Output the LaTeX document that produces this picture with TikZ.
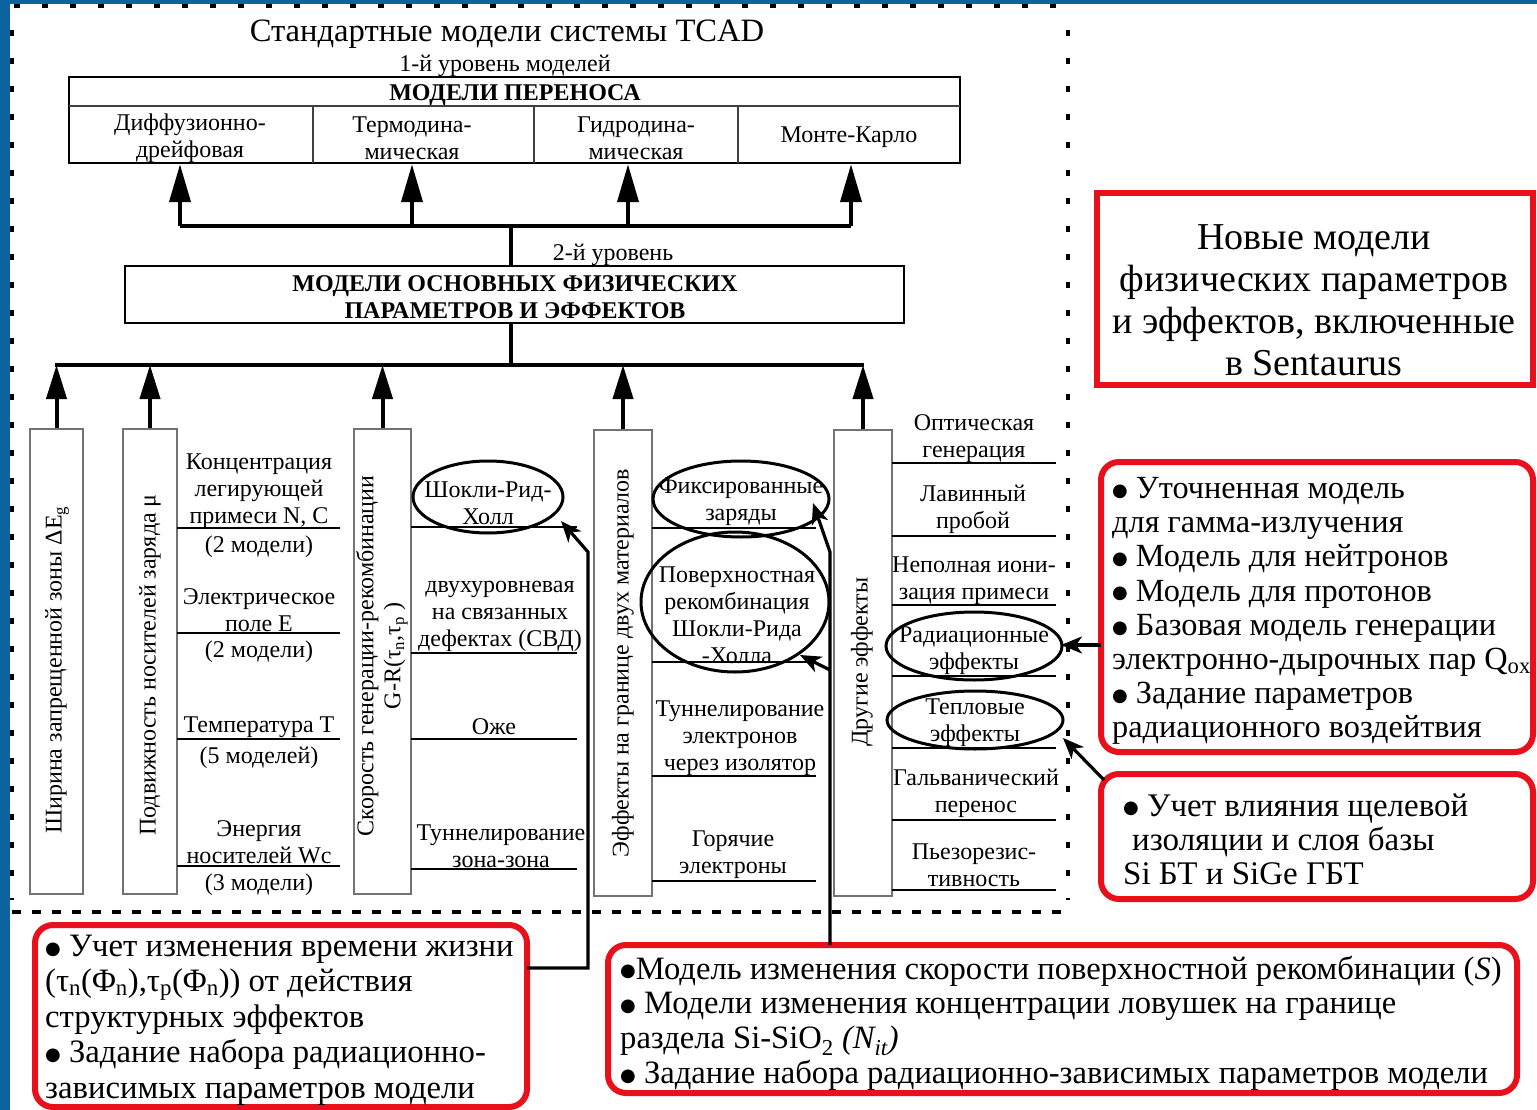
\documentclass[tikz,border=0pt]{standalone}
\usepackage{fontspec}
\setmainfont{Liberation Serif}
\newfontfamily\dejavu{DejaVu Sans}
\newcommand{\bul}{\raisebox{2.2pt}{\dejavu\fontsize{18}{18}\selectfont ●}}
\usetikzlibrary{arrows.meta,calc}
\definecolor{frameblue}{HTML}{0B64A0}
\definecolor{boxred}{HTML}{E8101A}
\begin{document}
\begin{tikzpicture}[x=1pt,y=-1pt,
  t24/.style={font=\fontsize{24}{27}\selectfont, align=center, inner sep=0pt},
  th/.style={t24, yshift=-3pt},
  b24/.style={font=\bfseries\fontsize{24}{27}\selectfont, align=center, inner sep=0pt},
  colbox/.style={draw=black!55, line width=1.2pt, inner sep=0pt},
  uline/.style={line width=1.8pt},
  ell/.style={line width=3pt},
  thk/.style={line width=4pt},
  bigarr/.style={line width=4pt, -{Triangle[length=38pt,width=21pt]}},
  midarr/.style={line width=4pt, -{Triangle[length=34pt,width=20pt]}},
  stl/.style={line width=3.2pt, -{Stealth[length=21pt,width=17pt,inset=6pt]}},
  redsq/.style={draw=boxred, line width=6pt, inner sep=0pt},
  redb/.style={draw=boxred, line width=6pt, rounded corners=18pt, inner sep=0pt},
  dashfr/.style={line width=4pt, dash pattern=on 6pt off 22pt},
]
\useasboundingbox (0,0) rectangle (1537,1110);
\fill[white] (0,0) rectangle (1537,1110);
\fill[frameblue] (0,0) rectangle (10,1110);
\fill[frameblue] (0,0) rectangle (1537,4);

% dashed frame
\draw[dashfr] (14,6) -- (1068,6);
\draw[dashfr] (12,30) -- (12,900);
\draw[dashfr] (1068,30) -- (1068,900);
\draw[line width=4pt, dash pattern=on 9pt off 11pt] (12,912) -- (1068,912);

% titles
\node (title) [font=\fontsize{32.6}{36}\selectfont, inner sep=0pt] at (507,34) {Стандартные модели системы TCAD};
\node (lvl1) [th] at (505,63) {1-й уровень моделей};

% level 1 box
\node (tm) [draw, line width=2.5pt, minimum width=891pt, minimum height=86pt, inner sep=0pt] at (514.5,120) {};
\draw[line width=1.3pt, black!75] (69,106) -- (960,106);
\draw[line width=1.3pt, black!75] (313,106) -- (313,163);
\draw[line width=1.3pt, black!75] (534,106) -- (534,163);
\draw[line width=1.3pt, black!75] (738,106) -- (738,163);
\node (tmh) [b24, yshift=-3pt] at (515,92) {МОДЕЛИ ПЕРЕНОСА};
\node (m1) [th] at (190,135) {Диффузионно-\\дрейфовая};
\node (m2) [th] at (412,135) {Термодина-\\мическая};
\node (m3) [th] at (636,135) {Гидродина-\\мическая};
\node (m4) [th] at (849,134) {Монте-Карло};

% level 2 box
\node (b2) [draw, line width=2.5pt, minimum width=779pt, minimum height=57pt, inner sep=0pt] at (514.5,294.5) {};
\node (b2t) [b24] at (515,297) {МОДЕЛИ ОСНОВНЫХ ФИЗИЧЕСКИХ\\ПАРАМЕТРОВ И ЭФФЕКТОВ};
\node (lvl2) [th] at (613,252) {2-й уровень};

% upper connectors
\coordinate (j1) at (511,226);
\coordinate (ta1) at (180,226);
\coordinate (ta2) at (412,226);
\coordinate (ta3) at (628,226);
\coordinate (ta4) at (851,226);
\draw[thk] (ta1) -- (ta4);
\draw[thk] (j1) -- (j1 |- b2.north);
\draw[bigarr] (ta1) -- (ta1 |- tm.south);
\draw[bigarr] (ta2) -- (ta2 |- tm.south);
\draw[bigarr] (ta3) -- (ta3 |- tm.south);
\draw[bigarr] (ta4) -- (ta4 |- tm.south);

% columns
\node (c1) [colbox, minimum width=53pt, minimum height=465pt] at (56.5,661.5) {};
\node (c2) [colbox, minimum width=54pt, minimum height=465pt] at (150,661.5) {};
\node (c3) [colbox, minimum width=57pt, minimum height=465pt] at (382.5,661.5) {};
\node (c4) [colbox, minimum width=58pt, minimum height=466pt] at (623,663) {};
\node (c5) [colbox, minimum width=58pt, minimum height=466pt] at (863,663) {};
\node (c1t) [t24, rotate=90] at (57,670) {Ширина запрещенной зоны ΔE\textsubscript{g}};
\node (c2t) [t24, rotate=90] at (150,665) {Подвижность носителей заряда μ};
\node (c3t) [t24, rotate=90] at (382,656) {Скорость генерации-рекомбинации\\G-R(τ\textsubscript{n},τ\textsubscript{p} )};
\node (c4t) [t24, rotate=90] at (623,663) {Эффекты на границе двух материалов};
\node (c5t) [t24, rotate=90] at (862,662) {Другие эффекты};

% lower connectors
\coordinate (j2) at (511,365);
\draw[thk] (b2.south -| j2) -- (j2);
\draw[thk] (55,365) -- (864,365);
\draw[midarr] (c1.north) -- (c1.north |- j2);
\draw[midarr] (c2.north) -- (c2.north |- j2);
\draw[midarr] (c3.north) -- (c3.north |- j2);
\draw[midarr] (c4.north) -- (c4.north |- j2);
\draw[midarr] (c5.north) -- (c5.north |- j2);

% column 2 items
\node (n21) [th] at (259,488) {Концентрация\\легирующей\\примеси N, C};
\draw[uline] (177,528) -- (340,528);
\node (n22) [th] at (259,544) {(2 модели)};
\node (n23) [th] at (259,607) {Электрическое\\поле E};
\draw[uline] (177,633) -- (340,633);
\node (n24) [th] at (259,649) {(2 модели)};
\node (n25) [th] at (259,724) {Температура T};
\draw[uline] (177,739) -- (340,739);
\node (n26) [th] at (259,755) {(5 моделей)};
\node (n27) [th] at (259,839) {Энергия\\носителей Wc};
\draw[uline] (177,866) -- (340,866);
\node (n28) [th] at (259,882) {(3 модели)};

% column 3 items
\draw[uline] (411,527) -- (577,527);
\node (e31) [th] at (488,500) {Шокли-Рид-\\Холл};
\coordinate (e31c) at (488,497);
\draw[ell] (e31c) ellipse [x radius=75pt, y radius=36pt];
\node (n32) [th] at (500,613) {двухуровневая\\на связанных\\дефектах (СВД)};
\draw[uline] (411,653) -- (577,653);
\node (n33) [th] at (494,724) {Оже};
\draw[uline] (411,739) -- (577,739);
\node (n34) [th] at (501,843) {Туннелирование\\зона-зона};
\draw[uline] (411,869) -- (577,869);

% column 4 items
\draw[uline] (652,528) -- (816,528);
\node (e41) [th] at (741,499) {Фиксированные\\заряды};
\coordinate (e41c) at (741,499);
\draw[ell] (e41c) ellipse [x radius=88pt, y radius=38pt];
\draw[uline] (652,662) -- (816,662);
\node (e42) [th] at (737,612) {Поверхностная\\рекомбинация\\Шокли-Рида\\-Холла};
\coordinate (e42c) at (735,602);
\draw[ell] (e42c) ellipse [x radius=94pt, y radius=70pt];
\node (n43) [th] at (740,735) {Туннелирование\\электронов\\через изолятор};
\draw[uline] (652,776) -- (816,776);
\node (n44) [th] at (733,852) {Горячие\\электроны};
\draw[uline] (652,881) -- (816,881);

% column 5 items
\node (n51) [th] at (974,436) {Оптическая\\генерация};
\draw[uline] (892,463) -- (1056,463);
\node (n52) [th] at (973,506) {Лавинный\\пробой};
\draw[uline] (892,536) -- (1056,536);
\node (n53) [th] at (974,578) {Неполная иони-\\зация примеси};
\draw[uline] (892,605) -- (1056,605);
\node (e54) [th] at (974,648) {Радиационные\\эффекты};
\coordinate (e54c) at (974,646);
\draw[ell] (e54c) ellipse [x radius=88pt, y radius=34pt];
\draw[uline] (892,676) -- (1056,676);
\node (e55) [th] at (975,720) {Тепловые\\эффекты};
\coordinate (e55c) at (975,720);
\draw[ell] (e55c) ellipse [x radius=88pt, y radius=29pt];
\draw[uline] (892,748) -- (1056,748);
\node (n56) [th] at (976,790) {Гальванический\\перенос};
\draw[uline] (892,820) -- (1056,820);
\node (n57) [th] at (974,862) {Пьезорезис-\\тивность};
\draw[uline] (892,890) -- (1056,890);

% red boxes
\node (nb) [redsq, minimum width=436pt, minimum height=192pt] at (1315,289) {};
\node (nbt) [font=\fontsize{38}{42}\selectfont, align=center, inner sep=0pt] at (1314,300) {Новые модели\\физических параметров\\и эффектов, включенные\\в Sentaurus};

\node (r2) [redb, minimum width=432pt, minimum height=290pt] at (1317,607) {};
\node (r2t) [font=\fontsize{32.3}{34.2}\selectfont, align=left, inner sep=0pt, anchor=west] at (1112,611) {\bul{} Уточненная модель\\для гамма-излучения\\\bul{} Модель для нейтронов\\\bul{} Модель для протонов\\\bul{} Базовая модель генерации\\электронно-дырочных пар Q\textsubscript{ox}\\\bul{} Задание параметров\\радиационного воздейтвия};

\node (r3) [redb, minimum width=432pt, minimum height=125pt] at (1317,836.5) {};
\node (r3t) [font=\fontsize{33}{34}\selectfont, align=left, inner sep=0pt, anchor=west] at (1123,839) {\bul{} Учет влияния щелевой\\\hspace*{9pt}изоляции и слоя базы\\Si БТ и SiGe ГБТ};

\node (r4) [redb, minimum width=492pt, minimum height=182pt] at (281,1016) {};
\node (r4t) [font=\fontsize{32.7}{35.5}\selectfont, align=left, inner sep=0pt, anchor=west] at (45,1020) {\bul{} Учет изменения времени жизни\\(τ\textsubscript{n}(Φ\textsubscript{n}),τ\textsubscript{p}(Φ\textsubscript{n})) от действия\\структурных эффектов\\\bul{} Задание набора радиационно-\\зависимых параметров модели};

\node (r5) [redb, minimum width=909pt, minimum height=148pt] at (1062.5,1019) {};
\node (r5t) [font=\fontsize{32.6}{34.7}\selectfont, align=left, inner sep=0pt, anchor=west] at (620,1023) {\bul{}Модель изменения скорости поверхностной рекомбинации (\textit{S})\\\bul{} Модели изменения концентрации ловушек на границе\\раздела Si-SiO\textsubscript{2} \textit{(N\textsubscript{it})}\\\bul{} Задание набора радиационно-зависимых параметров модели};

% arrows from red boxes
\coordinate (r2a) at (1101,645);
\coordinate (radE) at (1061,645);
\draw[stl] (r2a) -- (radE);
\coordinate (r3a) at (1104,780);
\coordinate (tepE) at (1063,738);
\draw[stl] (r3a) -- (tepE);
\coordinate (r4a) at (527,968);
\coordinate (k1) at (588,968);
\coordinate (k2) at (588,552);
\coordinate (shE) at (561,521);
\draw[stl] (r4a) -- (k1) -- (k2) -- (shE);
\coordinate (r5a) at (830,945);
\coordinate (k3) at (830,552);
\coordinate (fxE) at (813,503);
\draw[stl] (r5a) -- (k3) -- (fxE);
\coordinate (k4) at (830,670);
\coordinate (pvE) at (800,655);
\draw[stl] (k4) -- (pvE);
\end{tikzpicture}
\end{document}
